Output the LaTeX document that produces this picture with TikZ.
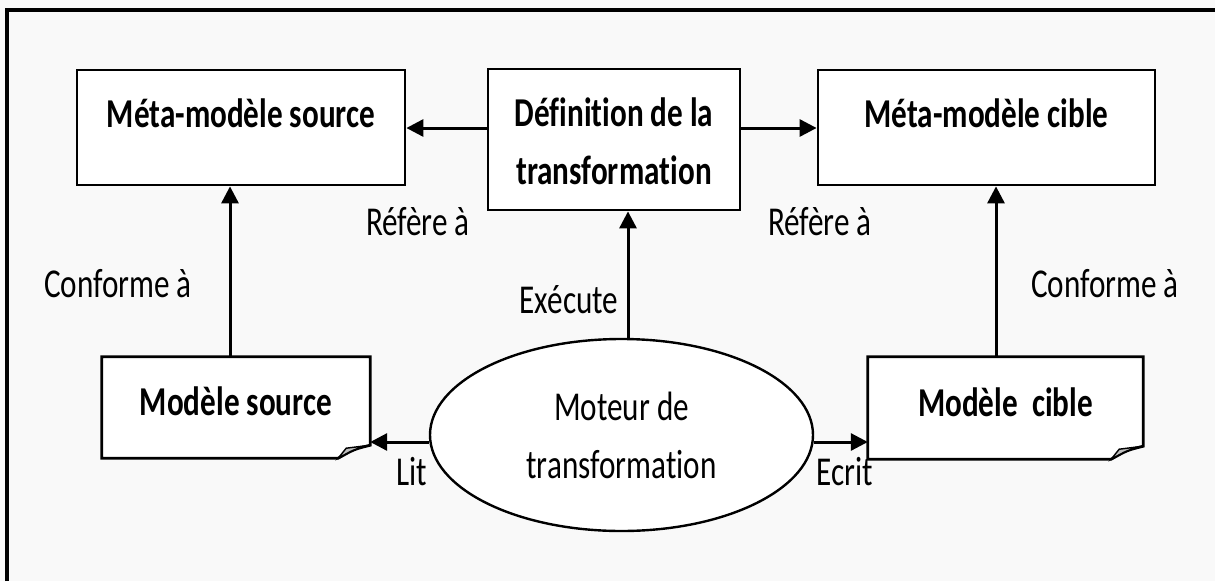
\documentclass[tikz,border=0pt]{standalone}
\usepackage{fontspec}
\setmainfont{Carlito}[FakeStretch=0.76,Ligatures={NoCommon,NoContextual}]
\usetikzlibrary{arrows.meta,shapes.geometric}
\definecolor{bgc}{HTML}{F9F9F9}
\newcommand{\nl}{\kern0pt }
\tikzset{
  arr/.style={line width=3pt,-{Triangle[length=17pt,width=17pt]}},
  boxn/.style={draw,line width=2.8pt,fill=white,inner sep=0pt},
  btext/.style={inner sep=0pt,align=center,font=\fontsize{41}{58}\selectfont\bfseries},
  docn/.style={inner sep=0pt},
  docline/.style={line width=2.8pt,fill=white,line join=miter},
  foldst/.style={line width=1.4pt,fill=black!25},
  ell/.style={draw,ellipse,line width=2.4pt,fill=white,inner sep=0pt,align=center,font=\fontsize{41}{58}\selectfont},
  lab/.style={inner sep=0pt,font=\fontsize{41}{50}\selectfont},
  frame/.style={line width=3.2pt}
}
\begin{document}
\begin{tikzpicture}[x=1pt,y=-1pt]
\useasboundingbox[fill=bgc] (0,0) rectangle (1215,581);
\coordinate (fa) at (7,581);
\coordinate (fb) at (7,10);
\coordinate (fc) at (1215,10);
\draw[frame] (fa) -- (fb) -- (fc);

\node[boxn,minimum width=328pt,minimum height=115pt] (mms) at (241,127.5) {};
\node[btext] (tmms) at ([yshift=14pt]mms.center) {Méta-modèle source};
\node[boxn,minimum width=252pt,minimum height=141pt] (def) at (614,139.5) {};
\node[btext] (tdef) at ([yshift=-2pt]def.center) {Déf\nl ini\nl tion de la\\transforma\nl t\nl ion};
\node[boxn,minimum width=337pt,minimum height=115pt] (mmc) at (986.5,127.5) {};
\node[btext] (tmmc) at ([yshift=14pt]mmc.center) {Méta-modèle cible};

% document shapes
\node[docn,minimum width=268pt,minimum height=101pt] (ms) at (236,407.5) {};
\draw[docline] (ms.north west) -- (ms.north east) -- ([yshift=13pt]ms.south east)
  .. controls ([xshift=-16pt,yshift=9pt]ms.south east) .. ([xshift=-32pt]ms.south east) -- (ms.south west) -- cycle;
\draw[foldst] ([xshift=-32pt]ms.south east) -- ([xshift=-24pt,yshift=10pt]ms.south east) -- ([yshift=13pt]ms.south east) .. controls ([xshift=-16pt,yshift=9pt]ms.south east) .. cycle;
\node[btext] (tms) at ([yshift=6pt]ms.center) {Modèle source};

\node[docn,minimum width=275pt,minimum height=102pt] (mc) at (1005.5,408) {};
\draw[docline] (mc.north west) -- (mc.north east) -- ([yshift=13pt]mc.south east)
  .. controls ([xshift=-16pt,yshift=9pt]mc.south east) .. ([xshift=-32pt]mc.south east) -- (mc.south west) -- cycle;
\draw[foldst] ([xshift=-32pt]mc.south east) -- ([xshift=-24pt,yshift=10pt]mc.south east) -- ([yshift=13pt]mc.south east) .. controls ([xshift=-16pt,yshift=9pt]mc.south east) .. cycle;
\node[btext] (tmc) at ([yshift=6pt]mc.center) {Modèle\ \ cible};

\node[ell,minimum width=383pt,minimum height=192pt] (eng) at (621.5,435) {Moteur de\\transforma\nl t\nl ion};

% helper coordinates
\coordinate (ya) at (0,128);
\coordinate (yb) at (0,442);
\coordinate (xl) at (230,0);
\coordinate (xm) at (628,0);
\coordinate (xr) at (996,0);

\draw[arr] (def.west |- ya) -- (mms.east |- ya);
\draw[arr] (def.east |- ya) -- (mmc.west |- ya);
\draw[arr] (ms.north -| xl) -- (mms.south -| xl);
\draw[arr] (mc.north -| xr) -- (mmc.south -| xr);
\draw[arr] (eng.north -| xm) -- (def.south -| xm);
\draw[arr] (eng.west |- yb) -- (ms.east |- yb);
\draw[arr] (eng.east |- yb) -- (mc.west |- yb);

\node[lab] (l1) at (418,222) {Réfère à};
\node[lab] (l2) at (820,222) {Réfère à};
\node[lab] (l3) at (118,284) {Conforme à};
\node[lab] (l4) at (1105,284) {Conforme à};
\node[lab] (l5) at (569,300) {Exécute};
\node[lab] (l6) at (412,472) {Lit};
\node[lab] (l7) at (845,472) {Ecrit};
\end{tikzpicture}
\end{document}
